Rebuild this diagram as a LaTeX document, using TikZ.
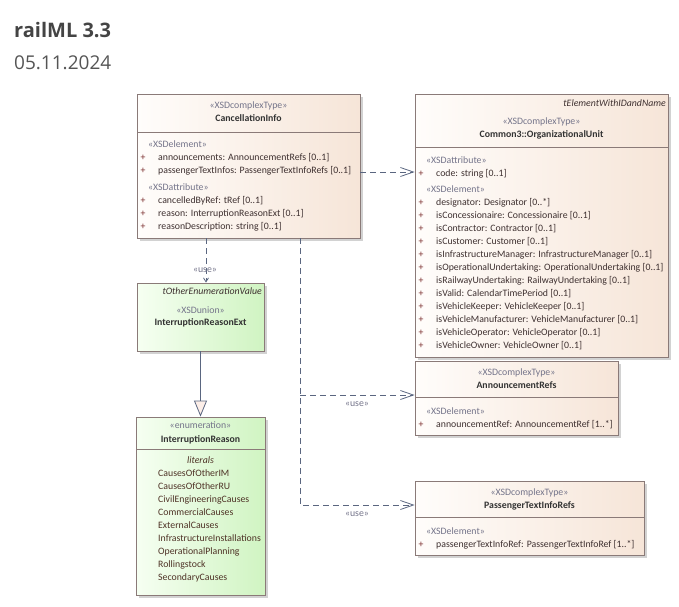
\documentclass[tikz,border=0pt]{standalone}
\usepackage{fontspec}
\setmainfont{Carlito}
\newfontfamily\titlefont{Open Sans}
\usetikzlibrary{arrows.meta,shadows}

\definecolor{bgL}{HTML}{FFFDFB}
\definecolor{bgR}{HTML}{F6E5D8}
\definecolor{grL}{HTML}{F6FFF2}
\definecolor{grR}{HTML}{D0F4C2}
\definecolor{bd}{HTML}{8A7A78}
\definecolor{stc}{HTML}{74748A}
\definecolor{namec}{HTML}{333333}
\definecolor{memc}{HTML}{3E3030}
\definecolor{plusc}{HTML}{7A2C2C}
\definecolor{litc}{HTML}{4E3226}
\definecolor{conn}{HTML}{5A6680}
\definecolor{trif}{HTML}{FCEEE8}
\definecolor{ttl}{HTML}{444444}
\definecolor{dte}{HTML}{555555}

\newcommand{\umlfont}{\fontsize{9.8}{11}\selectfont}

\tikzset{
  umlbox/.style={draw=bd, line width=0.8pt, inner sep=0pt,
    drop shadow={shadow xshift=2.5pt, shadow yshift=-2.5pt, fill=black!35, opacity=0.5}},
  beigebox/.style={umlbox, left color=bgL, right color=bgR},
  greenbox/.style={umlbox, left color=grL, right color=grR},
  sep/.style={draw=bd, line width=0.8pt},
  txt/.style={inner sep=0pt, font=\umlfont, text height=6.5pt, text depth=2pt},
  stereo/.style={txt, text=stc},
  cname/.style={txt, text=namec, font=\umlfont\bfseries},
  member/.style={txt, anchor=west, text=memc},
  plus/.style={txt, text=plusc},
  literal/.style={txt, anchor=west, text=litc},
  parent/.style={txt, anchor=east, text=memc, font=\umlfont\itshape},
  usedep/.style={draw=conn, line width=0.8pt, dash pattern=on 6pt off 4pt,
    -{Straight Barb[length=13pt,width=9pt,line width=0.8pt]}},
  usesmall/.style={draw=conn, line width=0.8pt, dash pattern=on 6pt off 4pt,
    -{Straight Barb[length=4pt,width=5pt,line width=0.8pt]}},
  uselabel/.style={txt, text=stc},
  general/.style={draw=conn, line width=0.8pt,
    -{Triangle[length=16pt,width=13pt,fill=trif,line width=0.8pt]}},
}

\begin{document}
\begin{tikzpicture}[x=1pt,y=-1pt]
\useasboundingbox (0,0) rectangle (679,606);

% heading
\node[anchor=base west, inner sep=0pt, text=ttl, font=\titlefont\fontsize{20}{24}\selectfont\bfseries] (title) at (14,37) {railML 3.3};
\node[anchor=base west, inner sep=0pt, text=dte, font=\titlefont\fontsize{19}{24}\selectfont] (date) at (14,69) {05.11.2024};

% ---------- CancellationInfo ----------
\node[beigebox, minimum width=223pt, minimum height=144pt] (ci) at (248.5,166) {};
\draw[sep] (137,132) -- (360,132);
\node[stereo] (ciS) at (248.5,106) {«XSDcomplexType»};
\node[cname] (ciN) at (248.5,119) {CancellationInfo};
\node[stereo, anchor=west] (ciE) at (148,145) {«XSDelement»};
\node[plus] (ciP1) at (143,158) {+};
\node[member] (ciM1) at (158,158) {announcements: AnnouncementRefs [0..1]};
\node[plus] (ciP2) at (143,171) {+};
\node[member] (ciM2) at (158,171) {passengerTextInfos: PassengerTextInfoRefs [0..1]};
\node[stereo, anchor=west] (ciA) at (148,188) {«XSDattribute»};
\node[plus] (ciP3) at (143,201) {+};
\node[member] (ciM3) at (158,201) {cancelledByRef: tRef [0..1]};
\node[plus] (ciP4) at (143,214) {+};
\node[member] (ciM4) at (158,214) {reason: InterruptionReasonExt [0..1]};
\node[plus] (ciP5) at (143,227) {+};
\node[member] (ciM5) at (158,227) {reasonDescription: string [0..1]};

% ---------- Common3::OrganizationalUnit ----------
\node[beigebox, minimum width=253pt, minimum height=263pt] (ou) at (541.5,225.5) {};
\draw[sep] (415,147) -- (668,147);
\node[parent] (ouT) at (666,104) {tElementWithIDandName};
\node[stereo] (ouS) at (541.5,122) {«XSDcomplexType»};
\node[cname] (ouN) at (541.5,135) {Common3::OrganizationalUnit};
\node[stereo, anchor=west] (ouA) at (426,161) {«XSDattribute»};
\node[plus] (ouP0) at (421,174) {+};
\node[member] (ouM0) at (436,174) {code: string [0..1]};
\node[stereo, anchor=west] (ouE) at (426,190) {«XSDelement»};
\foreach \i/\t in {
  1/{designator: Designator [0..*]},
  2/{isConcessionaire: Concessionaire [0..1]},
  3/{isContractor: Contractor [0..1]},
  4/{isCustomer: Customer [0..1]},
  5/{isInfrastructureManager: InfrastructureManager [0..1]},
  6/{isOperationalUndertaking: OperationalUndertaking [0..1]},
  7/{isRailwayUndertaking: RailwayUndertaking [0..1]},
  8/{isValid: CalendarTimePeriod [0..1]},
  9/{isVehicleKeeper: VehicleKeeper [0..1]},
  10/{isVehicleManufacturer: VehicleManufacturer [0..1]},
  11/{isVehicleOperator: VehicleOperator [0..1]},
  12/{isVehicleOwner: VehicleOwner [0..1]}} {
  \node[plus] (ouP\i) at (421,190+13*\i) {+};
  \node[member] (ouM\i) at (436,190+13*\i) {\t};
}

% ---------- InterruptionReasonExt ----------
\node[greenbox, minimum width=127pt, minimum height=68pt] (ext) at (200.5,317) {};
\node[parent] (extT) at (262,292) {tOtherEnumerationValue};
\node[stereo] (extS) at (200.5,311) {«XSDunion»};
\node[cname] (extN) at (200.5,323) {InterruptionReasonExt};

% ---------- InterruptionReason ----------
\node[greenbox, minimum width=129pt, minimum height=178pt] (ir) at (200.5,506) {};
\draw[sep] (136,449) -- (265,449);
\node[stereo] (irS) at (200.5,426) {«enumeration»};
\node[cname] (irN) at (200.5,440) {InterruptionReason};
\node[txt, text=litc, font=\umlfont\itshape] (irL) at (200.5,461) {literals};
\foreach \i/\t in {1/CausesOfOtherIM, 2/CausesOfOtherRU, 3/CivilEngineeringCauses,
  4/CommercialCauses, 5/ExternalCauses, 6/InfrastructureInstallations,
  7/OperationalPlanning, 8/Rollingstock, 9/SecondaryCauses} {
  \node[literal] (irV\i) at (158,461+13*\i) {\t};
}

% ---------- AnnouncementRefs ----------
\node[beigebox, minimum width=203pt, minimum height=74pt] (ar) at (516.5,398) {};
\draw[sep] (415,397) -- (618,397);
\node[stereo] (arS) at (516.5,373) {«XSDcomplexType»};
\node[cname] (arN) at (516.5,386) {AnnouncementRefs};
\node[stereo, anchor=west] (arE) at (426,412) {«XSDelement»};
\node[plus] (arP) at (421,425) {+};
\node[member] (arM) at (436,425) {announcementRef: AnnouncementRef [1..*]};

% ---------- PassengerTextInfoRefs ----------
\node[beigebox, minimum width=229pt, minimum height=74pt] (pt) at (529.5,518) {};
\draw[sep] (415,517) -- (644,517);
\node[stereo] (ptS) at (529.5,493) {«XSDcomplexType»};
\node[cname] (ptN) at (529.5,506) {PassengerTextInfoRefs};
\node[stereo, anchor=west] (ptE) at (426,532) {«XSDelement»};
\node[plus] (ptP) at (421,545) {+};
\node[member] (ptM) at (436,545) {passengerTextInfoRef: PassengerTextInfoRef [1..*]};

% ---------- connectors ----------
\coordinate (ciOut) at (ci.east |- 0,172);
\coordinate (ouIn) at (ou.west |- 0,172);
\draw[usedep] (ciOut) -- (ouIn);

\coordinate (ciBot) at (ci.south -| 206,0);
\coordinate (extTop) at (ext.north -| 206,0);
\draw[usesmall] (ciBot) -- (extTop);
\node[uselabel] (lblExt) at (205,270) {«use»};

\draw[general] (ext.south) -- (ir.north);

\coordinate (ciDown) at (ci.south -| 300,0);
\coordinate (bend) at (300,395);
\coordinate (arIn) at (ar.west |- 0,395);
\coordinate (ptIn) at (pt.west |- 0,505);
\draw[usedep] (ciDown) |- (ptIn);
\draw[usedep] (bend) -- (arIn);
\node[uselabel] (lblAr) at (357,404) {«use»};
\node[uselabel] (lblPt) at (357,514) {«use»};
\end{tikzpicture}
\end{document}
